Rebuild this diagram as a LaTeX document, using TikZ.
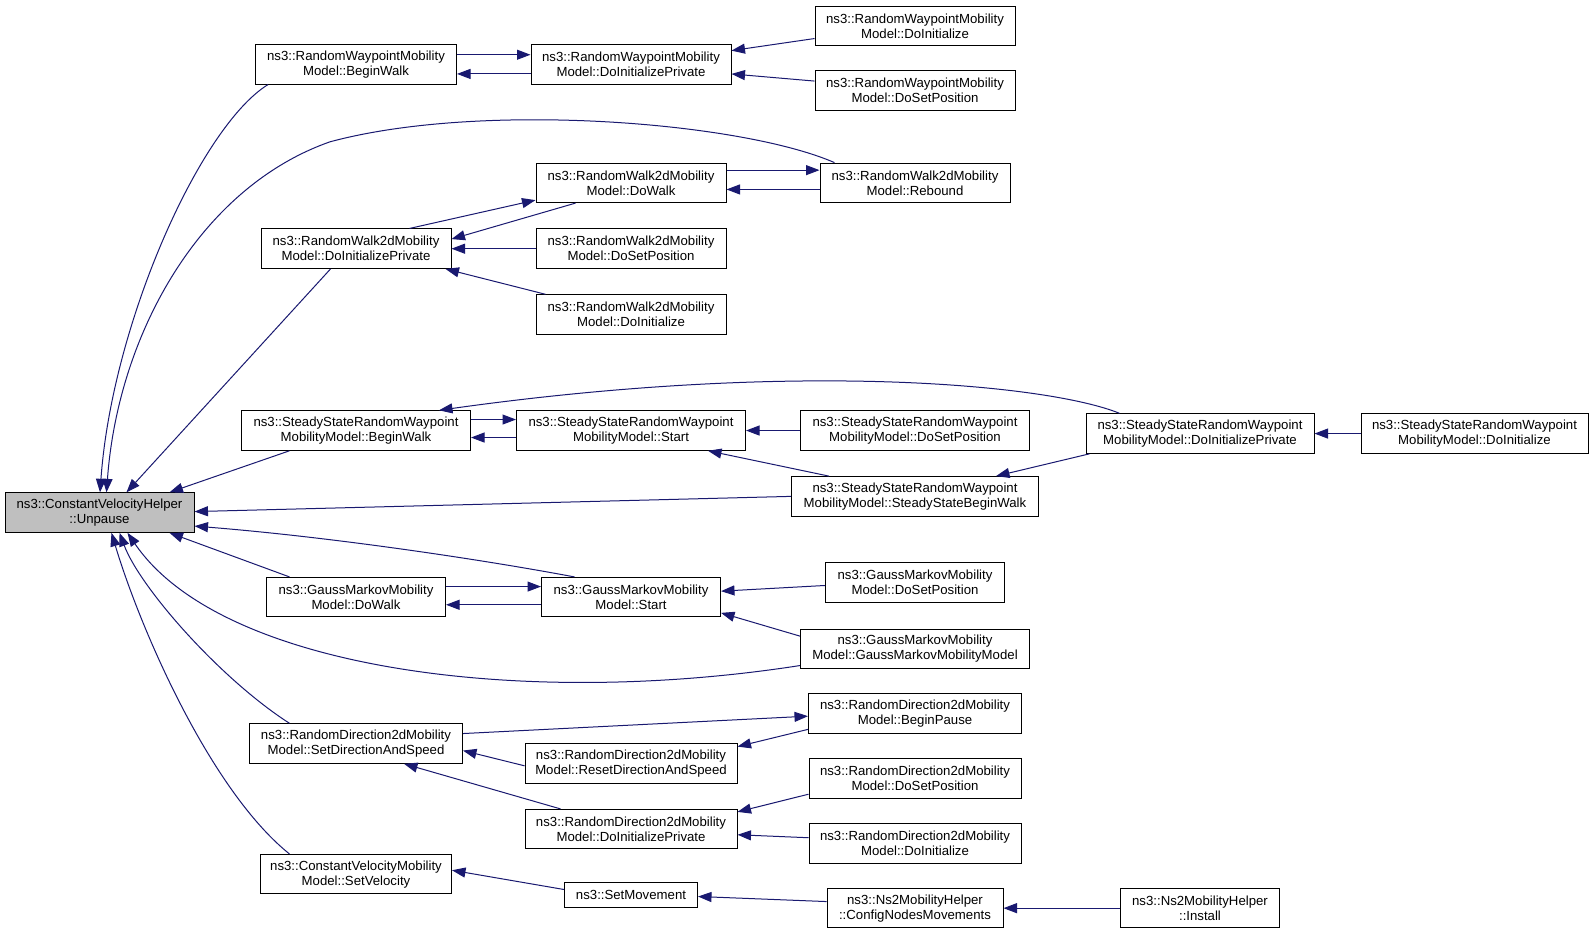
\documentclass[tikz,border=0pt]{standalone}
\usepackage{fontspec}
\setmainfont{Liberation Sans}
\usetikzlibrary{arrows.meta}
\definecolor{edgeblue}{RGB}{25,25,112}
\definecolor{nodegray}{RGB}{191,191,191}
\begin{document}
\begin{tikzpicture}[x=1pt,y=-1.013pt,
  box/.style={draw=black,line width=1pt,fill=white,align=center,inner sep=0pt,
    minimum height=39.5pt,font=\fontsize{13.2}{15}\selectfont},
  edge/.style={draw=edgeblue,line width=1pt,-{Triangle[length=13.5pt,width=10pt]}}]
\useasboundingbox (0,0) rectangle (1592,923);
\fill[white] (0,0) rectangle (1592,923);
% nodes
\node[box,minimum width=189pt,fill=nodegray] (U) at (99.5,506) {ns3::ConstantVelocityHelper\\::Unpause};
\node[box,minimum width=201pt] (RWPBW) at (356,63.5) {ns3::RandomWaypointMobility\\Model::BeginWalk};
\node[box,minimum width=200pt] (RWPDIP) at (631,63.5) {ns3::RandomWaypointMobility\\Model::DoInitializePrivate};
\node[box,minimum width=200pt] (RWPDI) at (915,25.5) {ns3::RandomWaypointMobility\\Model::DoInitialize};
\node[box,minimum width=200pt] (RWPDSP) at (915,89.5) {ns3::RandomWaypointMobility\\Model::DoSetPosition};
\node[box,minimum width=190pt] (RWDW) at (631,180.5) {ns3::RandomWalk2dMobility\\Model::DoWalk};
\node[box,minimum width=190pt] (RWR) at (915,180.5) {ns3::RandomWalk2dMobility\\Model::Rebound};
\node[box,minimum width=190pt] (RWDIP) at (356,245.5) {ns3::RandomWalk2dMobility\\Model::DoInitializePrivate};
\node[box,minimum width=190pt] (RWDSP) at (631,245.5) {ns3::RandomWalk2dMobility\\Model::DoSetPosition};
\node[box,minimum width=190pt] (RWDI) at (631,310.5) {ns3::RandomWalk2dMobility\\Model::DoInitialize};
\node[box,minimum width=229pt] (SSBW) at (356,425) {ns3::SteadyStateRandomWaypoint\\MobilityModel::BeginWalk};
\node[box,minimum width=229pt] (SSS) at (631,425) {ns3::SteadyStateRandomWaypoint\\MobilityModel::Start};
\node[box,minimum width=229pt] (SSDSP) at (915,425) {ns3::SteadyStateRandomWaypoint\\MobilityModel::DoSetPosition};
\node[box,minimum width=228pt] (SSDIP) at (1200,428) {ns3::SteadyStateRandomWaypoint\\MobilityModel::DoInitializePrivate};
\node[box,minimum width=227pt] (SSDI) at (1474.5,428) {ns3::SteadyStateRandomWaypoint\\MobilityModel::DoInitialize};
\node[box,minimum width=247pt] (SSSB) at (915,490) {ns3::SteadyStateRandomWaypoint\\MobilityModel::SteadyStateBeginWalk};
\node[box,minimum width=179pt] (GMDW) at (356,589.5) {ns3::GaussMarkovMobility\\Model::DoWalk};
\node[box,minimum width=179pt] (GMS) at (631,589.5) {ns3::GaussMarkovMobility\\Model::Start};
\node[box,minimum width=179pt] (GMDSP) at (915,575) {ns3::GaussMarkovMobility\\Model::DoSetPosition};
\node[box,minimum width=229pt] (GMM) at (915,640.5) {ns3::GaussMarkovMobility\\Model::GaussMarkovMobilityModel};
\node[box,minimum width=213pt] (RDSDS) at (356,734) {ns3::RandomDirection2dMobility\\Model::SetDirectionAndSpeed};
\node[box,minimum width=213pt] (RDBP) at (915,704.5) {ns3::RandomDirection2dMobility\\Model::BeginPause};
\node[box,minimum width=212pt] (RDRDS) at (631,753.5) {ns3::RandomDirection2dMobility\\Model::ResetDirectionAndSpeed};
\node[box,minimum width=212pt] (RDDSP) at (915,768.5) {ns3::RandomDirection2dMobility\\Model::DoSetPosition};
\node[box,minimum width=212pt] (RDDIP) at (631,818.5) {ns3::RandomDirection2dMobility\\Model::DoInitializePrivate};
\node[box,minimum width=212pt] (RDDI) at (915,832.5) {ns3::RandomDirection2dMobility\\Model::DoInitialize};
\node[box,minimum width=191pt] (CVSV) at (356,863) {ns3::ConstantVelocityMobility\\Model::SetVelocity};
\node[box,minimum width=133pt,minimum height=25pt] (SM) at (631,883.5) {ns3::SetMovement};
\node[box,minimum width=176pt] (NSC) at (915,896.5) {ns3::Ns2MobilityHelper\\::ConfigNodesMovements};
\node[box,minimum width=159pt] (NSI) at (1200,896.5) {ns3::Ns2MobilityHelper\\::Install};
% edges into Unpause
\draw[edge] ([xshift=13pt]RWPBW.south west) .. controls (200,125) and (112,320) .. ([xshift=0.5pt]U.north);
\draw[edge] ([xshift=15pt]RWR.north west) .. controls (740,120) and (480,100) .. (330,140) .. controls (200,185) and (118,330) .. ([xshift=7pt]U.north);
\draw[edge] ([xshift=70pt]RWDIP.south west) -- ([xshift=27pt]U.north);
\draw[edge] ([xshift=48.5pt]SSBW.south west) -- ([xshift=-25pt]U.north east);
\draw[edge] (SSSB.west) -- ([yshift=1pt]U.east);
\draw[edge] ([xshift=33.5pt]GMS.north west) .. controls (480,552) and (330,530) .. ([yshift=-13.5pt]U.east);
\draw[edge] ([xshift=23.5pt]GMDW.north west) -- ([xshift=-25pt]U.south east);
\draw[edge] ([yshift=-16.7pt]GMM.west) .. controls (520,700) and (220,660) .. ([xshift=28pt]U.south);
\draw[edge] ([xshift=40.5pt]RDSDS.north west) .. controls (220,670) and (140,580) .. ([xshift=20pt]U.south);
\draw[edge] ([xshift=29.5pt]CVSV.north west) .. controls (210,780) and (140,620) .. ([xshift=12pt]U.south);
% random waypoint
\draw[edge] ([yshift=9.6pt]RWPBW.east) -- ([yshift=9.6pt]RWPDIP.west);
\draw[edge] ([yshift=-9.6pt]RWPDIP.west) -- ([yshift=-9.6pt]RWPBW.east);
\draw[edge] ([yshift=-12.7pt]RWPDI.west) -- ([yshift=13.7pt]RWPDIP.east);
\draw[edge] ([yshift=9.6pt]RWPDSP.west) -- ([yshift=-9.6pt]RWPDIP.east);
% random walk
\draw[edge] ([xshift=149pt]RWDIP.north west) -- ([yshift=3pt]RWDW.south west);
\draw[edge] ([xshift=40pt]RWDW.south west) -- ([yshift=9.6pt]RWDIP.east);
\draw[edge] (RWDSP.west) -- (RWDIP.east);
\draw[edge] ([xshift=10pt]RWDI.north west) -- ([xshift=-6pt]RWDIP.south east);
\draw[edge] ([yshift=12.7pt]RWDW.east) -- ([yshift=12.7pt]RWR.west);
\draw[edge] ([yshift=-6.6pt]RWR.west) -- ([yshift=-6.6pt]RWDW.east);
% steady state
\draw[edge] ([yshift=11pt]SSBW.east) -- ([yshift=11pt]SSS.west);
\draw[edge] ([yshift=-7pt]SSS.west) -- ([yshift=-7pt]SSBW.east);
\draw[edge] (SSDSP.west) -- (SSS.east);
\draw[edge] ([xshift=38pt]SSSB.north west) -- ([xshift=-38pt]SSS.south east);
\draw[edge] ([xshift=34pt]SSDIP.north west) .. controls (1050,380) and (800,355) .. ([xshift=-32pt]SSBW.north east);
\draw[edge] ([xshift=4pt]SSDIP.south west) -- ([xshift=-43pt]SSSB.north east);
\draw[edge] (SSDI.west) -- (SSDIP.east);
% gauss markov
\draw[edge] ([yshift=10.6pt]GMDW.east) -- ([yshift=10.6pt]GMS.west);
\draw[edge] ([yshift=-7.6pt]GMS.west) -- ([yshift=-7.6pt]GMDW.east);
\draw[edge] ([yshift=-3pt]GMDSP.west) -- ([yshift=6pt]GMS.east);
\draw[edge] ([yshift=12.7pt]GMM.west) -- ([yshift=-15.7pt]GMS.east);
% random direction
\draw[edge] ([yshift=10pt]RDSDS.east) -- ([yshift=-2.5pt]RDBP.west);
\draw[edge] ([yshift=-15.7pt]RDBP.west) -- ([yshift=16.7pt]RDRDS.east);
\draw[edge] ([yshift=-2.5pt]RDRDS.west) -- ([yshift=-7pt]RDSDS.east);
\draw[edge] ([xshift=36pt]RDDIP.north west) -- ([xshift=48pt]RDSDS.south);
\draw[edge] ([yshift=-15.7pt]RDDSP.west) -- ([yshift=-3pt]RDDIP.north east);
\draw[edge] ([yshift=5.6pt]RDDI.west) -- ([yshift=-5.6pt]RDDIP.east);
% ns2 / set velocity
\draw[edge] ([yshift=5.5pt]SM.west) -- ([yshift=4pt]CVSV.east);
\draw[edge] ([yshift=6.6pt]NSC.west) -- ([yshift=-1.5pt]SM.east);
\draw[edge] (NSI.west) -- (NSC.east);
\end{tikzpicture}
\end{document}
